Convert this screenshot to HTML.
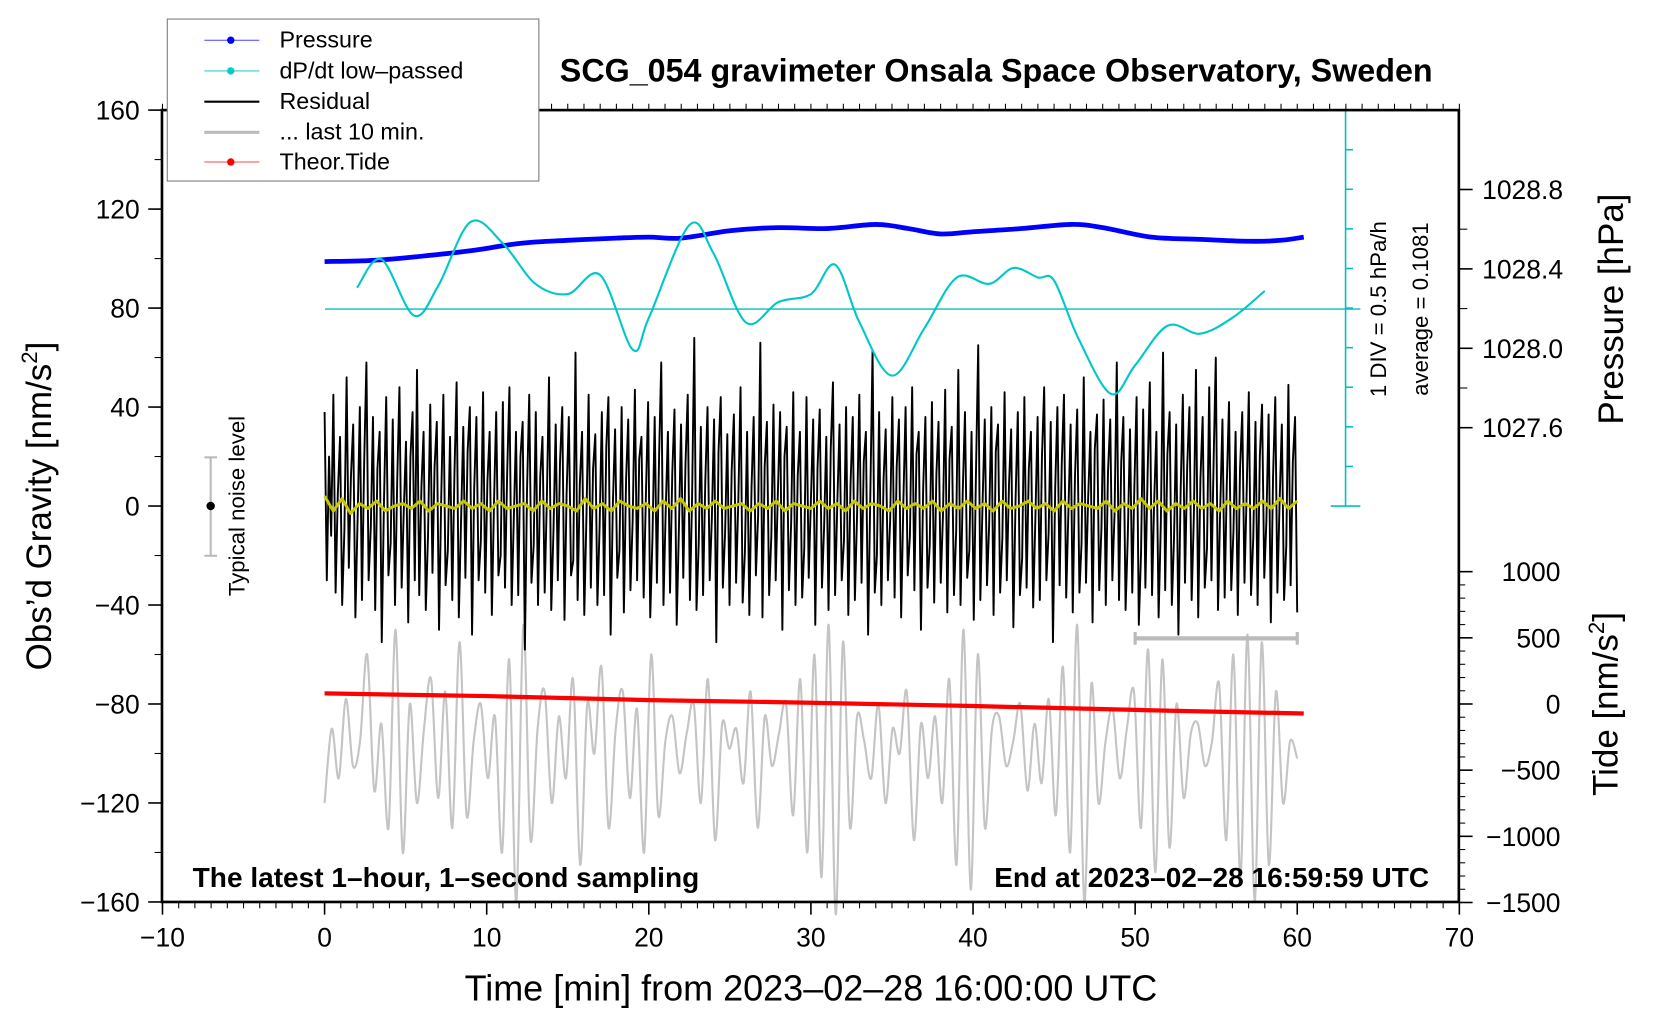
<!DOCTYPE html>
<html><head><meta charset="utf-8"><style>
body{margin:0;background:#fff}
svg{display:block}
text{font-family:"Liberation Sans",sans-serif;fill:#000}
</style></head><body>
<svg id="chart" width="1660" height="1020" viewBox="0 0 1568 963.5" preserveAspectRatio="none" xmlns="http://www.w3.org/2000/svg">
<g id="marks"></g>
<g id="axes"></g>
<text x="941" y="77" text-anchor="middle" font-size="30.5" font-weight="bold">SCG_054 gravimeter Onsala Space Observatory, Sweden</text>
<text x="182" y="838" font-size="26.5" font-weight="bold">The latest 1–hour, 1–second sampling</text>
<text x="1350" y="838" text-anchor="end" font-size="26.5" font-weight="bold">End at 2023–02–28 16:59:59 UTC</text>
<text x="766" y="945" text-anchor="middle" font-size="34">Time [min] from 2023–02–28 16:00:00 UTC</text>
<text transform="translate(48,478) rotate(-90)" text-anchor="middle" font-size="33">Obs’d Gravity [nm/s<tspan font-size="21" dy="-13">2</tspan><tspan dy="13">]</tspan></text>
<text transform="translate(1533,292) rotate(-90)" text-anchor="middle" font-size="33">Pressure [hPa]</text>
<text transform="translate(1528,665) rotate(-90)" text-anchor="middle" font-size="33">Tide [nm/s<tspan font-size="21" dy="-13">2</tspan><tspan dy="13">]</tspan></text>
<text transform="translate(231,478) rotate(-90)" text-anchor="middle" font-size="21">Typical noise level</text>
<text transform="translate(1309,292) rotate(-90)" text-anchor="middle" font-size="21">1 DIV = 0.5 hPa/h</text>
<text transform="translate(1349,292) rotate(-90)" text-anchor="middle" font-size="21">average = 0.1081</text>
<g>
<rect x="158" y="18" width="351" height="153" fill="#fff" stroke="#777" stroke-width="1"/>
<line x1="193" y1="38" x2="245" y2="38" stroke="#4444ff"/><circle cx="218" cy="38" r="3.5" fill="#0000ff"/>
<text x="264" y="45" font-size="22">Pressure</text>
<line x1="193" y1="67" x2="245" y2="67" stroke="#33cccc"/><circle cx="218" cy="67" r="3.5" fill="#00cccc"/>
<text x="264" y="74" font-size="22">dP/dt low–passed</text>
<line x1="193" y1="96" x2="245" y2="96" stroke="#000" stroke-width="2"/>
<text x="264" y="103" font-size="22">Residual</text>
<line x1="193" y1="125" x2="245" y2="125" stroke="#bbb" stroke-width="3"/>
<text x="264" y="132" font-size="22">... last 10 min.</text>
<line x1="193" y1="153" x2="245" y2="153" stroke="#ff4444"/><circle cx="218" cy="153" r="3.5" fill="#ff0000"/>
<text x="264" y="160" font-size="22">Theor.Tide</text>
</g>
</svg>
<script>
const xTicks=[-10,0,10,20,30,40,50,60,70];
const yTicks=[-160,-120,-80,-40,0,40,80,120,160];
const pTicks=[1027.6,1028.0,1028.4,1028.8];
const tideTicks=[-1500,-1000,-500,0,500,1000];
const pressT=[0,3,6,9,12,15,18,20,22,25,28,31,34,36,38,40,43,46,48,51,54,57,59,60.4];
const pressV=[1028.437,1028.443,1028.464,1028.491,1028.528,1028.544,1028.555,1028.560,1028.555,1028.592,1028.608,1028.603,1028.624,1028.603,1028.576,1028.587,1028.603,1028.624,1028.608,1028.560,1028.549,1028.539,1028.544,1028.560];
const dpT=[2,3.5,5.5,7,9,11,13,15,17,19,20,22.5,24,26,28,30,31.5,33,35,37,39,41,42.5,44,45,46.5,48.5,50,52,54,56,58];
const dpV=[0.27,0.63,-0.08,0.29,1.10,0.83,0.32,0.19,0.43,-0.51,-0.11,1.06,0.70,-0.17,0.09,0.19,0.56,-0.17,-0.84,-0.24,0.40,0.32,0.52,0.40,0.36,-0.37,-1.07,-0.71,-0.21,-0.31,-0.11,0.23];
const tideT=[0,10,20,30,40,50,60.4];
const tideV=[80,60,30,10,-15,-45,-72];
const resid=[38,-30,20,-12,45,-35,5,28,-40,-10,52,-25,12,33,-45,-5,40,-38,18,58,-30,-8,36,-42,15,30,-55,2,44,-28,-15,35,-40,10,48,-33,-2,26,-47,20,38,-30,55,-36,8,30,-42,-12,41,-27,16,34,-50,4,45,-32,-18,28,-38,12,50,-45,-6,32,-29,22,40,-52,7,36,-30,-14,46,-35,10,30,-44,3,38,-28,-20,42,-33,14,48,-40,-4,30,-36,20,34,-58,6,45,-31,-16,38,-40,12,28,-35,2,52,-42,-10,33,-30,18,40,-46,5,36,-28,-22,62,-38,9,30,-44,-3,45,-33,15,29,-40,-8,38,-36,24,44,-52,1,31,-29,-18,40,-43,11,35,-34,-6,47,-30,19,28,-37,4,42,-45,-13,36,-31,21,58,-40,-2,30,-35,13,39,-48,-9,33,-29,17,45,-38,3,68,-42,-15,32,-36,10,40,-30,-5,35,-55,22,44,-33,-11,29,-40,14,37,-31,2,48,-39,-19,30,-44,8,36,-28,-4,66,-45,16,34,-36,-12,41,-30,6,38,-50,20,32,-34,-7,46,-40,12,30,-37,-17,44,-29,3,35,-48,15,39,-33,-9,28,-42,23,50,-36,1,33,-30,-14,40,-44,9,36,-38,-3,45,-31,18,30,-52,5,63,-35,-20,38,-40,11,31,-30,-6,44,-37,16,35,-45,2,40,-28,-12,48,-34,21,30,-50,7,36,-33,-16,42,-39,13,34,-31,-4,47,-43,19,32,-36,-10,55,-40,6,38,-29,-18,30,-46,14,65,-38,1,35,-32,-8,40,-44,22,33,-35,-13,46,-30,9,31,-49,3,38,-36,-21,44,-33,15,30,-41,-5,36,-38,20,48,-30,-11,34,-55,7,40,-32,17,45,-37,-2,33,-43,12,39,-35,-15,52,-31,4,30,-47,23,37,-34,-9,43,-40,14,35,-30,-3,58,-38,18,36,-42,-12,31,-35,8,44,-48,-19,39,-33,13,50,-36,2,30,-45,-7,62,-34,21,38,-40,-14,33,-52,6,45,-31,16,40,-38,-4,55,-45,11,36,-33,-17,48,-30,19,60,-42,-1,35,-37,9,42,-34,-10,30,-44,15,38,-31,4,46,-36,-13,34,-40,20,41,-29,-6,37,-47,12,44,-35,2,33,-38,-16,49,-32,18,36,-43];
const yellow=[4,-2,3,-3,1,-1,2,-2,0,1,-1,2,-2,1,0,-1,2,-1,1,-2,2,-1,0,1,-2,2,-1,1,0,-2,3,-1,1,-2,2,0,-1,1,-2,2,-1,3,-2,1,-1,2,-1,0,1,-2,1,-1,2,-2,1,0,-1,2,-1,1,-2,2,-1,1,0,-2,2,-1,1,-1,2,-2,1,-1,2,-1,1,-2,2,-1,0,2,-1,1,-2,2,-1,1,0,-1,2,-2,1,-1,3,-1,2,-2,1,-1,2,-1,1,-2,2,-1,1,-1,2,-1,3,-1,2];
const gray=[-120,-90,-110,-78,-105,-95,-60,-115,-88,-130,-50,-140,-80,-120,-90,-70,-118,-75,-130,-55,-125,-95,-80,-110,-85,-140,-62,-160,-48,-135,-90,-75,-120,-85,-110,-70,-145,-80,-100,-65,-130,-90,-75,-118,-82,-140,-60,-125,-95,-85,-108,-92,-80,-120,-70,-135,-88,-98,-90,-112,-75,-130,-85,-105,-92,-80,-125,-70,-140,-60,-150,-48,-165,-55,-130,-85,-95,-110,-80,-120,-90,-100,-75,-135,-88,-110,-85,-120,-70,-145,-50,-155,-60,-130,-90,-85,-105,-95,-80,-115,-88,-112,-78,-125,-65,-140,-48,-160,-72,-120,-95,-82,-110,-90,-75,-130,-58,-148,-62,-138,-80,-118,-92,-88,-105,-95,-72,-135,-60,-150,-52,-160,-55,-145,-75,-120,-95,-102];
const X=t=>306.6+t*15.3125, Y=v=>478-v*2.3375;
const P=p=>254-(p-1028.4)/0.4*75, D=v=>292-v/0.5*37.4, T=v=>665-v/500*62.5;
const NS='http://www.w3.org/2000/svg';
const marks=document.getElementById('marks'), axes=document.getElementById('axes');
function mk(tag,attrs,parent){const e=document.createElementNS(NS,tag);for(const k in attrs)e.setAttribute(k,attrs[k]);parent.appendChild(e);return e;}
function pathD(xs,ys,smooth){let d='M'+xs[0].toFixed(1)+','+ys[0].toFixed(1);
for(let i=1;i<xs.length;i++){
 if(!smooth){d+='L'+xs[i].toFixed(1)+','+ys[i].toFixed(1);continue;}
 const i0=Math.max(0,i-2),i3=Math.min(xs.length-1,i+1);
 const c1x=xs[i-1]+(xs[i]-xs[i0])/6,c1y=ys[i-1]+(ys[i]-ys[i0])/6;
 const c2x=xs[i]-(xs[i3]-xs[i-1])/6,c2y=ys[i]-(ys[i3]-ys[i-1])/6;
 d+='C'+c1x.toFixed(1)+','+c1y.toFixed(1)+' '+c2x.toFixed(1)+','+c2y.toFixed(1)+' '+xs[i].toFixed(1)+','+ys[i].toFixed(1);}
return d;}
function line(xs,ys,stroke,w,name,smooth){const e=mk('path',{d:pathD(xs,ys,smooth),fill:'none',stroke:stroke,'stroke-width':w,'stroke-linejoin':'round'},marks);

return e;}
line(gray.map((v,i)=>X(i*60/(gray.length-1))),gray.map(Y),'#c4c4c4',2,'last-10-min-line',true);
line(resid.map((v,i)=>X(i*60/(resid.length-1))),resid.map(Y),'#000',1.8,'residual-line',false);
line(yellow.map((v,i)=>X(i*60/(yellow.length-1))),yellow.map(Y),'#c8c800',2.8,'residual-smoothed-line',false);
line(tideT.map(X),tideV.map(T),'#ff0000',4,'theoretical-tide-line',false);
line(pressT.map(X),pressV.map(P),'#0000ff',4.5,'pressure-line',true);
line(dpT.map(X),dpV.map(D),'#00c8c8',2,'dpdt-line',true);
let e=mk('line',{x1:307,y1:292,x2:1285,y2:292,stroke:'#00c0c0','stroke-width':1.3},axes);


e=mk('line',{x1:1271,y1:104,x2:1271,y2:478,stroke:'#00c0c0','stroke-width':1.5},axes);


for(let i=0;i<=10;i++){const y=104+i*37.4;const big=(i==0||i==10);mk('line',{x1:big?1257:1271,y1:y,x2:big?1285:1278,y2:y,stroke:'#00c0c0','stroke-width':1.5},axes);}
e=mk('line',{x1:199,y1:432,x2:199,y2:525,stroke:'#bbb','stroke-width':2},axes);


mk('line',{x1:193,y1:432,x2:205,y2:432,stroke:'#bbb','stroke-width':2},axes);
mk('line',{x1:193,y1:525,x2:205,y2:525,stroke:'#bbb','stroke-width':2},axes);
mk('circle',{cx:199,cy:478,r:4,fill:'#000'},axes);
e=mk('line',{x1:X(50),y1:603,x2:X(60),y2:603,stroke:'#bbb','stroke-width':4},axes);


mk('line',{x1:X(50),y1:597,x2:X(50),y2:609,stroke:'#bbb','stroke-width':3},axes);
mk('line',{x1:X(60),y1:597,x2:X(60),y2:609,stroke:'#bbb','stroke-width':3},axes);
e=mk('rect',{x:153,y:104,width:1225,height:748,fill:'none',stroke:'#000','stroke-width':2.5},axes);


for(let t=-10;t<=70;t++){mk('line',{x1:X(t),y1:852,x2:X(t),y2:858,stroke:'#000','stroke-width':1},axes);mk('line',{x1:X(t),y1:104,x2:X(t),y2:98,stroke:'#000','stroke-width':1},axes);}
xTicks.forEach(t=>{mk('line',{x1:X(t),y1:852,x2:X(t),y2:864,stroke:'#000','stroke-width':1.5},axes);const tx=mk('text',{x:X(t),y:894,'text-anchor':'middle','font-size':25},axes);tx.textContent=String(t).replace('-','\u2212');

});
for(let v=-160;v<=160;v+=20){mk('line',{x1:153,y1:Y(v),x2:146,y2:Y(v),stroke:'#000','stroke-width':1},axes);}
yTicks.forEach(v=>{mk('line',{x1:153,y1:Y(v),x2:140,y2:Y(v),stroke:'#000','stroke-width':1.5},axes);const tx=mk('text',{x:132,y:Y(v)+9,'text-anchor':'end','font-size':25},axes);tx.textContent=String(v).replace('-','\u2212');

});
for(let p=1027.6;p<=1028.81;p+=0.2){mk('line',{x1:1378,y1:P(p),x2:1386,y2:P(p),stroke:'#000','stroke-width':1},axes);}
pTicks.forEach(p=>{mk('line',{x1:1378,y1:P(p),x2:1391,y2:P(p),stroke:'#000','stroke-width':1.5},axes);const tx=mk('text',{x:1400,y:P(p)+9,'font-size':25},axes);tx.textContent=p.toFixed(1);

});
for(let v=-1500;v<=1000;v+=100){mk('line',{x1:1378,y1:T(v),x2:1384,y2:T(v),stroke:'#000','stroke-width':1},axes);}
tideTicks.forEach(v=>{mk('line',{x1:1378,y1:T(v),x2:1391,y2:T(v),stroke:'#000','stroke-width':1.5},axes);const tx=mk('text',{x:1474,y:T(v)+9,'text-anchor':'end','font-size':25},axes);tx.textContent=String(v).replace('-','\u2212');

});
</script>
</body></html>
